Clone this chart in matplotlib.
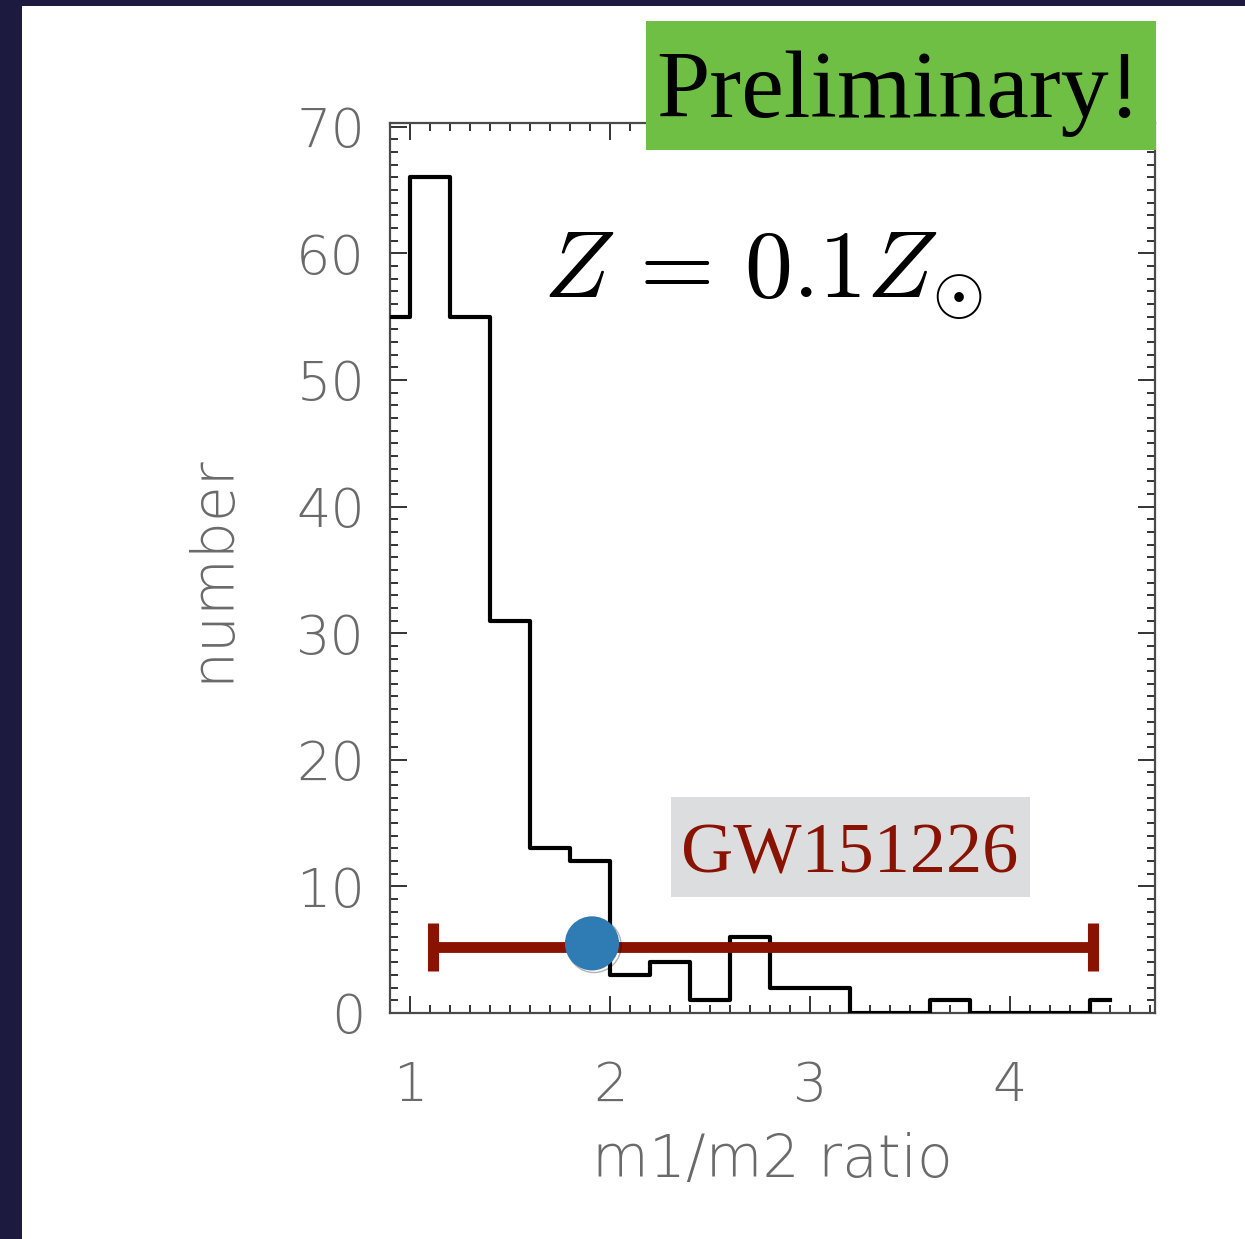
import matplotlib
matplotlib.use("Agg")
import matplotlib.pyplot as plt
import matplotlib.patheffects as pe
from matplotlib.patches import Rectangle
from matplotlib.ticker import MultipleLocator

# histogram of m1/m2 (bin centres, IDL-style step plot)
ratio_centers = [0.9, 1.1, 1.3, 1.5, 1.7, 1.9, 2.1, 2.3, 2.5, 2.7,
                 2.9, 3.1, 3.3, 3.5, 3.7, 3.9, 4.1, 4.3, 4.5]
counts = [55, 66, 55, 31, 13, 12, 3, 4, 1, 6,
          2, 2, 0, 0, 1, 0, 0, 0, 1]

# GW151226 mass ratio with its range
gw_name = "GW151226"
gw_q = 1.91
gw_q_lo = 1.115
gw_q_hi = 4.415
gw_bar_y = 5.2
gw_pt_y = 5.5

x_ticks = [1, 2, 3, 4]
y_ticks = [0, 10, 20, 30, 40, 50, 60, 70]

W, H = 1245, 1239
fig = plt.figure(figsize=(W / 100, H / 100), dpi=100, facecolor="#1c1a3e")

# white slide area
fig.patches.append(Rectangle((22 / W, 0), 1 - 22 / W, 1 - 6 / H,
                             transform=fig.transFigure, facecolor="white",
                             edgecolor="none", zorder=-5))

ax = fig.add_axes([390 / W, 1 - 1013 / H, (1155 - 390) / W, (1013 - 123) / H])
ax.set_facecolor("white")

ax.step(ratio_centers, counts, where="mid", color="black", lw=3.0, zorder=3)

ax.errorbar(gw_q, gw_bar_y, xerr=[[gw_q - gw_q_lo], [gw_q_hi - gw_q]],
            fmt="none", ecolor="#8a1200", elinewidth=7.8, capsize=17,
            capthick=8, zorder=4)
ax.plot([gw_q], [gw_pt_y], "o", color="#2e7cb3", markersize=39, mec="none",
        zorder=5,
        path_effects=[pe.SimpleLineShadow(offset=(1.5, -1.5), alpha=0.3),
                      pe.Normal()])

ax.set_xlim(0.9, 4.725)
ax.set_ylim(0, 70.3)
ax.set_xticks(x_ticks)
ax.set_yticks(y_ticks)
ax.xaxis.set_minor_locator(MultipleLocator(0.1))
ax.yaxis.set_minor_locator(MultipleLocator(1))

for s in ax.spines.values():
    s.set_color("#4a4a4a")
    s.set_linewidth(1.6)

ax.tick_params(which="both", direction="in", top=True, right=True,
               color="#333333", width=1.4)
ax.tick_params(which="major", length=12)
ax.tick_params(which="minor", length=6)
ax.tick_params(axis="x", which="major", pad=34)
ax.tick_params(axis="y", which="major", pad=18)

lab_font = dict(family="DejaVu Sans", weight="light", color="#6a6a6a")
for lbl in ax.get_xticklabels() + ax.get_yticklabels():
    lbl.set_fontsize(39)
    lbl.set_fontfamily("DejaVu Sans")
    lbl.set_fontweight("light")
    lbl.set_color("#6a6a6a")

ax.set_xlabel("m1/m2 ratio", fontsize=42, labelpad=14, **lab_font)
ax.set_ylabel("number", fontsize=42, labelpad=40, **lab_font)

# metallicity label
fig.text(543 / W, 1 - 298 / H, r"$Z\,=\,0.1Z_{\odot}$", fontsize=69,
         ha="left", va="baseline", color="black",
         math_fontfamily="cm", zorder=6)

# "Preliminary!" banner
fig.patches.append(Rectangle((646 / W, 1 - 150 / H), (1156 - 646) / W, (150 - 21) / H,
                             transform=fig.transFigure, facecolor="#6fbf44",
                             edgecolor="none", zorder=5))
fig.text(899 / W, 1 - 117 / H, "Preliminary!", fontsize=69,
         family="Liberation Serif", ha="center", va="baseline",
         color="black", zorder=6)

# event label
fig.patches.append(Rectangle((671 / W, 1 - 897 / H), (1030 - 671) / W, (897 - 797) / H,
                             transform=fig.transFigure, facecolor="#dcdddf",
                             edgecolor="none", zorder=5))
fig.text(850 / W, 1 - 873 / H, gw_name, fontsize=52,
         family="Liberation Serif", ha="center", va="baseline",
         color="#8a1200", zorder=6)

fig.savefig("out.png", dpi=100, facecolor=fig.get_facecolor())
